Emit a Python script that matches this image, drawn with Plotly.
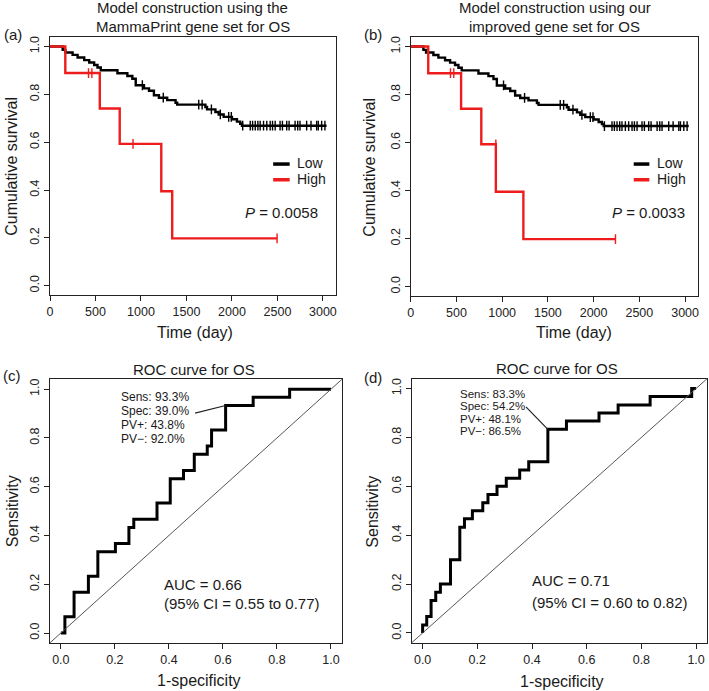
import numpy as np
import plotly.graph_objects as go

W, H = 709, 691
FONT = "Liberation Sans, Arial, Helvetica, sans-serif"
RED = "#ee1c1c"

# ---------------- data ----------------
# Kaplan-Meier, low-risk group (step times in days, survival after step)
low_time = [0, 139, 168, 248, 303, 376, 431, 485, 522, 558, 741, 850, 905, 942, 1033,
            1088, 1142, 1197, 1288, 1380, 1398, 1708, 1726, 1818, 1854, 1909, 2000,
            2055, 2091, 2110, 3040]
low_surv = [1.0, 0.986, 0.975, 0.965, 0.954, 0.943, 0.933, 0.923, 0.912, 0.901, 0.888,
            0.877, 0.865, 0.838, 0.825, 0.815, 0.796, 0.786, 0.776, 0.765, 0.757, 0.747,
            0.737, 0.726, 0.716, 0.706, 0.696, 0.686, 0.677, 0.669, 0.669]
low_cens = [1015, 1245, 1635, 1672, 1774, 1872, 1964, 1993, 2118, 2201, 2227, 2256,
            2285, 2310, 2347, 2383, 2420, 2446, 2475, 2529, 2555, 2602, 2628, 2694,
            2723, 2748, 2821, 2869, 2931, 2949, 2986, 3022]

# High-risk group, panel (a) and (b)
high_a_time = [0, 168, 547, 766, 1223, 1343, 2496]
high_a_surv = [1.0, 0.889, 0.741, 0.593, 0.395, 0.198, 0.198]
high_a_cens = [423, 460, 912, 2496]

high_b_time = [0, 192, 551, 772, 931, 1232, 2239]
high_b_surv = [1.0, 0.889, 0.741, 0.593, 0.395, 0.198, 0.198]
high_b_cens = [435, 471, 931, 2239]

# ROC curves (1-specificity, sensitivity) at each step
roc_c_fpr = [0, 0.015, 0.049, 0.102, 0.137, 0.202, 0.252, 0.27, 0.356, 0.405, 0.454,
             0.494, 0.542, 0.558, 0.61, 0.712, 0.847, 1.0]
roc_c_tpr = [0, 0.067, 0.167, 0.233, 0.333, 0.367, 0.433, 0.467, 0.533, 0.633, 0.667,
             0.733, 0.767, 0.833, 0.933, 0.967, 1.0, 1.0]
roc_d_fpr = [0, 0, 0.015, 0.031, 0.048, 0.065, 0.102, 0.136, 0.153, 0.182, 0.22, 0.239,
             0.272, 0.306, 0.355, 0.388, 0.458, 0.526, 0.645, 0.715, 0.832, 0.984, 1.0]
roc_d_tpr = [0, 0.033, 0.067, 0.133, 0.167, 0.2, 0.3, 0.433, 0.467, 0.5, 0.533, 0.567,
             0.6, 0.633, 0.667, 0.7, 0.833, 0.867, 0.9, 0.933, 0.967, 1.0, 1.0]

roc_c_cut = (0.61, 0.933)
roc_d_cut = (0.458, 0.833)

km_ticks = [0, 500, 1000, 1500, 2000, 2500, 3000]
prob_ticks = [0, 0.2, 0.4, 0.6, 0.8, 1.0]
prob_labels = ["0.0", "0.2", "0.4", "0.6", "0.8", "1.0"]

p_a, p_b = "0.0058", "0.0033"
roc_c_text = ["Sens: 93.3%", "Spec: 39.0%", "PV+: 43.8%", "PV\u2212: 92.0%"]
roc_d_text = ["Sens: 83.3%", "Spec: 54.2%", "PV+: 48.1%", "PV\u2212: 86.5%"]
auc_c = ["AUC = 0.66", "(95% CI = 0.55 to 0.77)"]
auc_d = ["AUC = 0.71", "(95% CI = 0.60 to 0.82)"]


def px(x):
    return x / W


def py(y):
    return 1 - y / H


def step_at(times, surv, t):
    idx = np.searchsorted(np.array(times), np.array(t), side="left") - 1
    idx = np.clip(idx, 0, len(surv) - 1)
    return list(np.array(surv)[idx])


fig = go.Figure()


def km(xa, ya, times, surv, cens, color):
    fig.add_trace(go.Scatter(x=times, y=surv, mode="lines", line=dict(color=color, width=2.4, shape="hv"),
                             xaxis=xa, yaxis=ya, showlegend=False, hoverinfo="skip"))
    fig.add_trace(go.Scatter(x=cens, y=step_at(times, surv, cens), mode="markers",
                             marker=dict(symbol="line-ns-open", size=7, color=color,
                                         line=dict(color=color, width=1.4)),
                             xaxis=xa, yaxis=ya, showlegend=False, hoverinfo="skip"))


km("x", "y", low_time, low_surv, low_cens, "black")
km("x", "y", high_a_time, high_a_surv, high_a_cens, RED)
km("x2", "y2", low_time, low_surv, low_cens, "black")
km("x2", "y2", high_b_time, high_b_surv, high_b_cens, RED)

fig.add_trace(go.Scatter(x=roc_c_fpr, y=roc_c_tpr, mode="lines", line=dict(color="black", width=3, shape="hv"),
                         xaxis="x3", yaxis="y3", showlegend=False, hoverinfo="skip"))
fig.add_trace(go.Scatter(x=roc_d_fpr, y=roc_d_tpr, mode="lines", line=dict(color="black", width=3, shape="hv"),
                         xaxis="x4", yaxis="y4", showlegend=False, hoverinfo="skip"))

axis_common = dict(showline=True, mirror=True, linecolor="#222", linewidth=1, ticks="outside",
                   ticklen=5, tickwidth=1, tickcolor="#222", showgrid=False, zeroline=False,
                   tickfont=dict(size=12.5, color="#222", family=FONT))

layout = dict(
    width=W, height=H, autosize=False, margin=dict(l=0, r=0, t=0, b=0),
    paper_bgcolor="white", plot_bgcolor="white",
    font=dict(family=FONT, color="#1a1a1a"),
    xaxis=dict(domain=[px(47.3), px(335)], range=[0, 3145], anchor="y", tickvals=km_ticks, **axis_common),
    yaxis=dict(domain=[py(294.7), py(36)], range=[-0.04, 1.04], anchor="x", tickvals=prob_ticks,
               ticktext=prob_labels, tickangle=-90, **axis_common),
    xaxis2=dict(domain=[px(410), px(699.3)], range=[0, 3145], anchor="y2", tickvals=km_ticks, **axis_common),
    yaxis2=dict(domain=[py(295.7), py(36)], range=[-0.04, 1.04], anchor="x2", tickvals=prob_ticks,
                ticktext=prob_labels, tickangle=-90, **axis_common),
    xaxis3=dict(domain=[px(47.3), px(340.7)], range=[-0.04, 1.04], anchor="y3", tickvals=prob_ticks,
                ticktext=prob_labels, **axis_common),
    yaxis3=dict(domain=[py(642.7), py(379)], range=[-0.04, 1.04], anchor="x3", tickvals=prob_ticks,
                ticktext=prob_labels, tickangle=-90, **axis_common),
    xaxis4=dict(domain=[px(411), px(708.0)], range=[-0.04, 1.04], anchor="y4", tickvals=prob_ticks,
                ticktext=prob_labels, **axis_common),
    yaxis4=dict(domain=[py(642.7), py(378.3)], range=[-0.04, 1.04], anchor="x4", tickvals=prob_ticks,
                ticktext=prob_labels, tickangle=-90, **axis_common),
)
fig.update_layout(**layout)

ann = []


def text(x, y, s, size=15, xanchor="center", angle=0):
    ann.append(dict(x=px(x), y=py(y), xref="paper", yref="paper", text=s, showarrow=False,
                    xanchor=xanchor, yanchor="middle", textangle=angle,
                    font=dict(size=size, family=FONT, color="#1a1a1a")))


# titles
text(191, 7, "Model construction using the")
text(191, 26, "MammaPrint gene set for OS")
text(555, 7, "Model construction using our")
text(555, 26, "improved gene set for OS")
text(192, 369, "ROC curve for OS")
text(557, 368, "ROC curve for OS")
# panel labels
text(10, 34, "(a)")
text(372, 34, "(b)")
text(9, 375, "(c)")
text(372.5, 377, "(d)")
# axis titles
text(9, 165, "Cumulative survival", size=16, angle=-90)
text(369, 166, "Cumulative survival", size=16, angle=-90)
text(193, 332, "Time (day)", size=16)
text(574, 332, "Time (day)", size=16)
text(9, 511, "Sensitivity", size=16, angle=-90)
text(371.5, 511, "Sensitivity", size=16, angle=-90)
text(196.7, 680, "1-specificity", size=16)
text(561.7, 681, "1-specificity", size=16)
# legends
shapes = []
for (x0, x1, tx) in [(271.7, 288.3, 294), (634.3, 650, 656)]:
    shapes.append(dict(type="line", xref="paper", yref="paper", x0=px(x0), x1=px(x1), y0=py(163.3), y1=py(163.3),
                       line=dict(color="black", width=3.5)))
    shapes.append(dict(type="line", xref="paper", yref="paper", x0=px(x0), x1=px(x1), y0=py(179), y1=py(179),
                       line=dict(color=RED, width=3.5)))
    text(tx, 162.5, "Low", size=14, xanchor="left")
    text(tx, 178.5, "High", size=14, xanchor="left")
text(241, 212, "<i>P</i> = " + p_a, size=15, xanchor="left")
text(610, 212, "<i>P</i> = " + p_b, size=15, xanchor="left")
# ROC annotations
for s, y in zip(roc_c_text, [396.7, 410.7, 424.7, 438.7]):
    text(117, y, s, size=12, xanchor="left")
for s, y in zip(roc_d_text, [393.3, 406, 418.3, 430.6]):
    text(457.5, y, s, size=11.5, xanchor="left")
text(160, 584, auc_c[0], size=15, xanchor="left")
text(160, 603, auc_c[1], size=15, xanchor="left")
text(529.5, 580.7, auc_d[0], size=15, xanchor="left")
text(529.5, 602.3, auc_d[1], size=15, xanchor="left")

# diagonal reference lines
for xr, yr in [("x3 domain", "y3 domain"), ("x4 domain", "y4 domain")]:
    shapes.append(dict(type="line", xref=xr, yref=yr, x0=0, y0=0, x1=1, y1=1,
                       line=dict(color="#555", width=1)))
# leader lines from the text to the cut-off point
shapes.append(dict(type="line", xref="x3", yref="y3", x0=0.497, y0=0.902, x1=roc_c_cut[0], y1=roc_c_cut[1],
                   line=dict(color="#222", width=1.2)))
shapes.append(dict(type="line", xref="x4", yref="y4", x0=0.378, y0=0.925, x1=roc_d_cut[0], y1=roc_d_cut[1],
                   line=dict(color="#222", width=1.2)))

fig.update_layout(annotations=ann, shapes=shapes)
fig.write_html("out.html", config={"displayModeBar": False},
               post_script="document.body.style.margin='0';document.body.style.padding='0';"
                           "document.body.style.overflow='hidden';")
